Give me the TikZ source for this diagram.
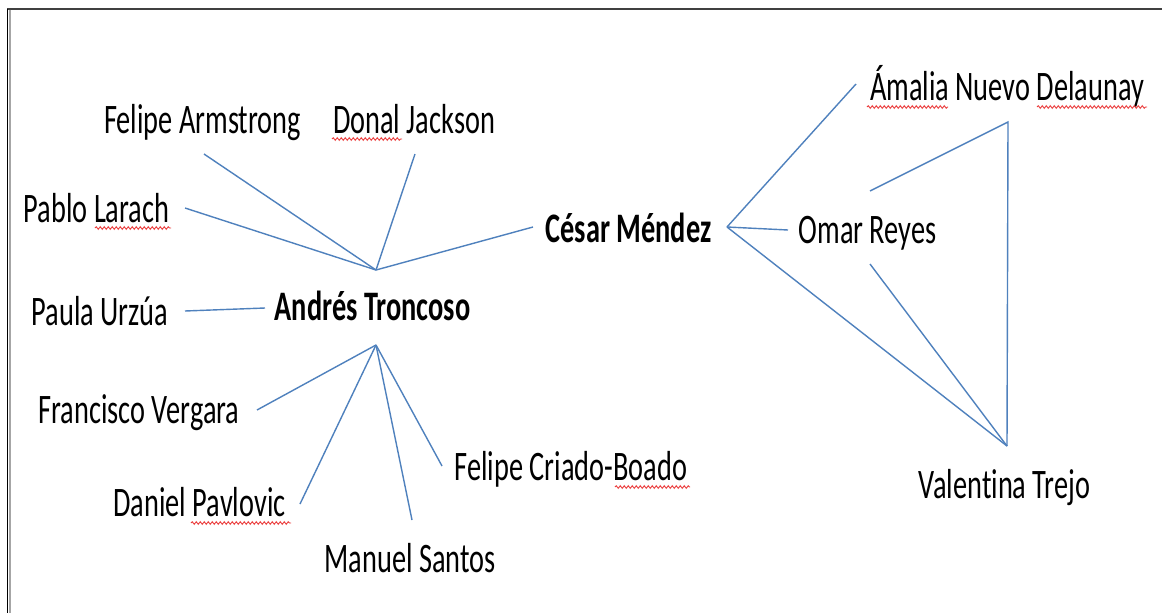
\documentclass[tikz,border=0pt]{standalone}
\usepackage{fontspec}
\setmainfont{Carlito}[FakeStretch=0.675, Ligatures={NoCommon}]
\usetikzlibrary{decorations.pathmorphing}
\definecolor{linkblue}{RGB}{79,129,189}
\definecolor{spellred}{RGB}{235,60,60}
\tikzset{
  person/.style={font=\fontsize{42}{50}\selectfont, inner sep=0pt, anchor=base, text=black},
  boss/.style={person, font=\fontsize{42}{50}\selectfont\bfseries},
  link/.style={draw=linkblue, line width=1.4pt},
  spell/.style={draw=spellred, line width=0.9pt, decorate,
    decoration={snake, amplitude=1.3pt, segment length=4pt}},
}
\begin{document}
\begin{tikzpicture}[x=1pt,y=-1pt]
\useasboundingbox (0,0) rectangle (1162,613);
\fill[white] (0,0) rectangle (1162,613);
% frame
\draw[draw=black!75, line width=1.2pt] (7,9) -- (1162,9);
\draw[draw=black, line width=1pt] (7.5,9) -- (7.5,613);
\draw[draw=black!35, line width=2.5pt] (10,9.5) -- (10,613);

% nodes
\node[person] (fa) at (202.5,133) {Felipe Armstrong};
\node[person] (dj) at (414,133) {Donal Jackson};
\node[person] (pl) at (96.5,222) {Pablo Larach};
\node[person] (pu) at (100,325) {Paula Urzúa};
\node[boss]   (at) at (372.5,320) {Andrés Troncoso};
\node[person] (fv) at (139,423) {Francisco Vergara};
\node[person] (fc) at (571,480) {Felipe Criado-Boado};
\node[person] (dp) at (199.5,516) {Daniel Pavlovic};
\node[person] (ms) at (410,572) {Manuel Santos};
\node[boss]   (cm) at (628.5,242) {César Méndez};
\node[person] (or) at (867.5,243) {Omar Reyes};
\node[person] (an) at (1007,100) {Ámalia Nuevo Delaunay};
\node[person] (vt) at (1004.5,498) {Valentina Trejo};

% connector end points
\coordinate (A1) at (376,270);
\coordinate (A2) at (376,345);
\coordinate (fa-e) at (204,154);
\coordinate (dj-e) at (415,154);
\coordinate (pl-e) at (185,208);
\coordinate (cm-w) at (533,227);
\coordinate (pu-e) at (185,311);
\coordinate (at-w) at (265,308);
\coordinate (fv-e) at (257,410);
\coordinate (dp-e) at (300,504);
\coordinate (ms-e) at (412,520);
\coordinate (fc-e) at (442,466);
\coordinate (C) at (727,227);
\coordinate (an-e) at (856,84);
\coordinate (or-w) at (788,230);
\coordinate (V) at (1007,446);
\coordinate (or-ne) at (870,191);
\coordinate (D) at (1008,122);
\coordinate (or-se) at (870,264);

% connectors
\draw[link] (fa-e) -- (A1);
\draw[link] (dj-e) -- (A1);
\draw[link] (pl-e) -- (A1);
\draw[link] (A1) -- (cm-w);
\draw[link] (pu-e) -- (at-w);
\draw[link] (fv-e) -- (A2);
\draw[link] (dp-e) -- (A2);
\draw[link] (ms-e) -- (A2);
\draw[link] (fc-e) -- (A2);
\draw[link] (an-e) -- (C);
\draw[link] (C) -- (or-w);
\draw[link] (C) -- (V);
\draw[link] (or-ne) -- (D) -- (V);
\draw[link] (or-se) -- (V);

% spell-check underlines
\draw[spell] (95,228) -- (171,228);
\draw[spell] (332,139) -- (402,139);
\draw[spell] (191,523) -- (291,523);
\draw[spell] (615,487) -- (690,487);
\draw[spell] (867,107) -- (948,107);
\draw[spell] (1037,107) -- (1147,107);
\end{tikzpicture}
\end{document}
